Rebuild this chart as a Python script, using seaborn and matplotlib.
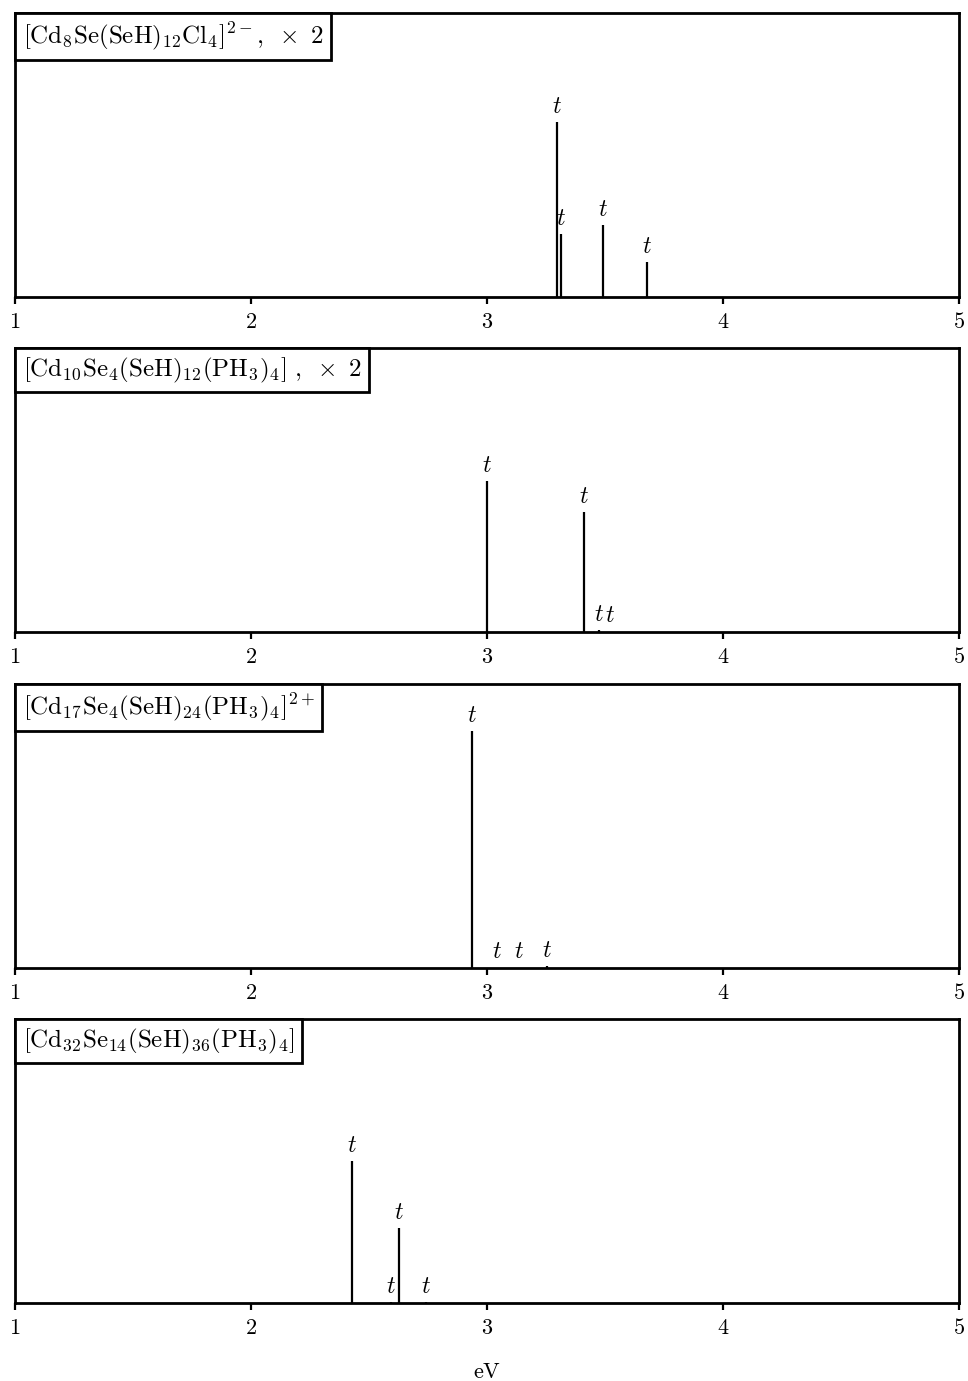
import numpy as np
import pandas as pd
import seaborn as sns
import matplotlib
matplotlib.use('Agg')
import matplotlib.pyplot as plt
from matplotlib.offsetbox import AnchoredText

# excitation energies (eV) and oscillator strengths (arb. units) per cluster
titles = [
    r'$[\mathrm{Cd_8Se(SeH)_{12}Cl_4}]^{2-},\ \times\ 2$',
    r'$[\mathrm{Cd_{10}Se_4(SeH)_{12}(PH_3)_4}]\ ,\ \times\ 2$',
    r'$[\mathrm{Cd_{17}Se_4(SeH)_{24}(PH_3)_4}]^{2+}$',
    r'$[\mathrm{Cd_{32}Se_{14}(SeH)_{36}(PH_3)_4}]$',
]
energies_1 = [3.297, 3.314, 3.490, 3.678]
strength_1 = [0.616, 0.222, 0.254, 0.123]
energies_2 = [2.999, 3.411, 3.475, 3.522]
strength_2 = [0.532, 0.423, 0.006, 0.001]
energies_3 = [2.935, 3.044, 3.136, 3.256]
strength_3 = [0.835, 0.001, 0.001, 0.006]
energies_4 = [2.427, 2.627, 2.592, 2.742]
strength_4 = [0.500, 0.264, 0.002, 0.002]
xticks = [1, 2, 3, 4, 5]

sns.set_theme(style='ticks')
plt.rcParams['mathtext.fontset'] = 'cm'
plt.rcParams['font.family'] = ['DejaVu Serif']
plt.rcParams['text.color'] = 'black'
plt.rcParams['axes.labelcolor'] = 'black'

fig = plt.figure(figsize=(9.68, 13.81), dpi=100, facecolor='w')
bottoms = [0.7849, 0.5424, 0.2991, 0.0565]
data = [(energies_1, strength_1), (energies_2, strength_2),
        (energies_3, strength_3), (energies_4, strength_4)]

for i, (title, (en, st)) in enumerate(zip(titles, data)):
    ax = fig.add_axes([0.0155, bottoms[i], 0.9752, 0.2056])
    df = pd.DataFrame({'eV': en, 'f': st})
    ax.vlines(df['eV'], 0, df['f'], color='black', lw=1.6)
    for x, h in zip(df['eV'], df['f']):
        ax.annotate('$t$', (x, h), xytext=(0, 3), textcoords='offset points',
                    ha='center', va='bottom', fontsize=17, color='black')
    ax.set_xlim(1, 5)
    ax.set_ylim(0, 1)
    ax.set_yticks([])
    ax.set_xticks(xticks)
    ax.set_xticklabels([f'${t}$' for t in xticks], fontsize=16)
    ax.tick_params(axis='x', direction='out', length=5, width=1.6, pad=5, colors='black')
    for s in ax.spines.values():
        s.set_linewidth(2.0)
        s.set_color('black')
        s.set_visible(True)
    at = AnchoredText(title, loc='upper left', pad=0.3, borderpad=0.0,
                      prop=dict(size=18, color='black'), frameon=True)
    at.patch.set_boxstyle('square,pad=0')
    at.patch.set_linewidth(2.0)
    at.patch.set_edgecolor('black')
    ax.add_artist(at)
    if i == 3:
        ax.set_xlabel(r'$\mathrm{eV}$', fontsize=16, labelpad=16)

fig.savefig('out.png', dpi=100, facecolor='w')
